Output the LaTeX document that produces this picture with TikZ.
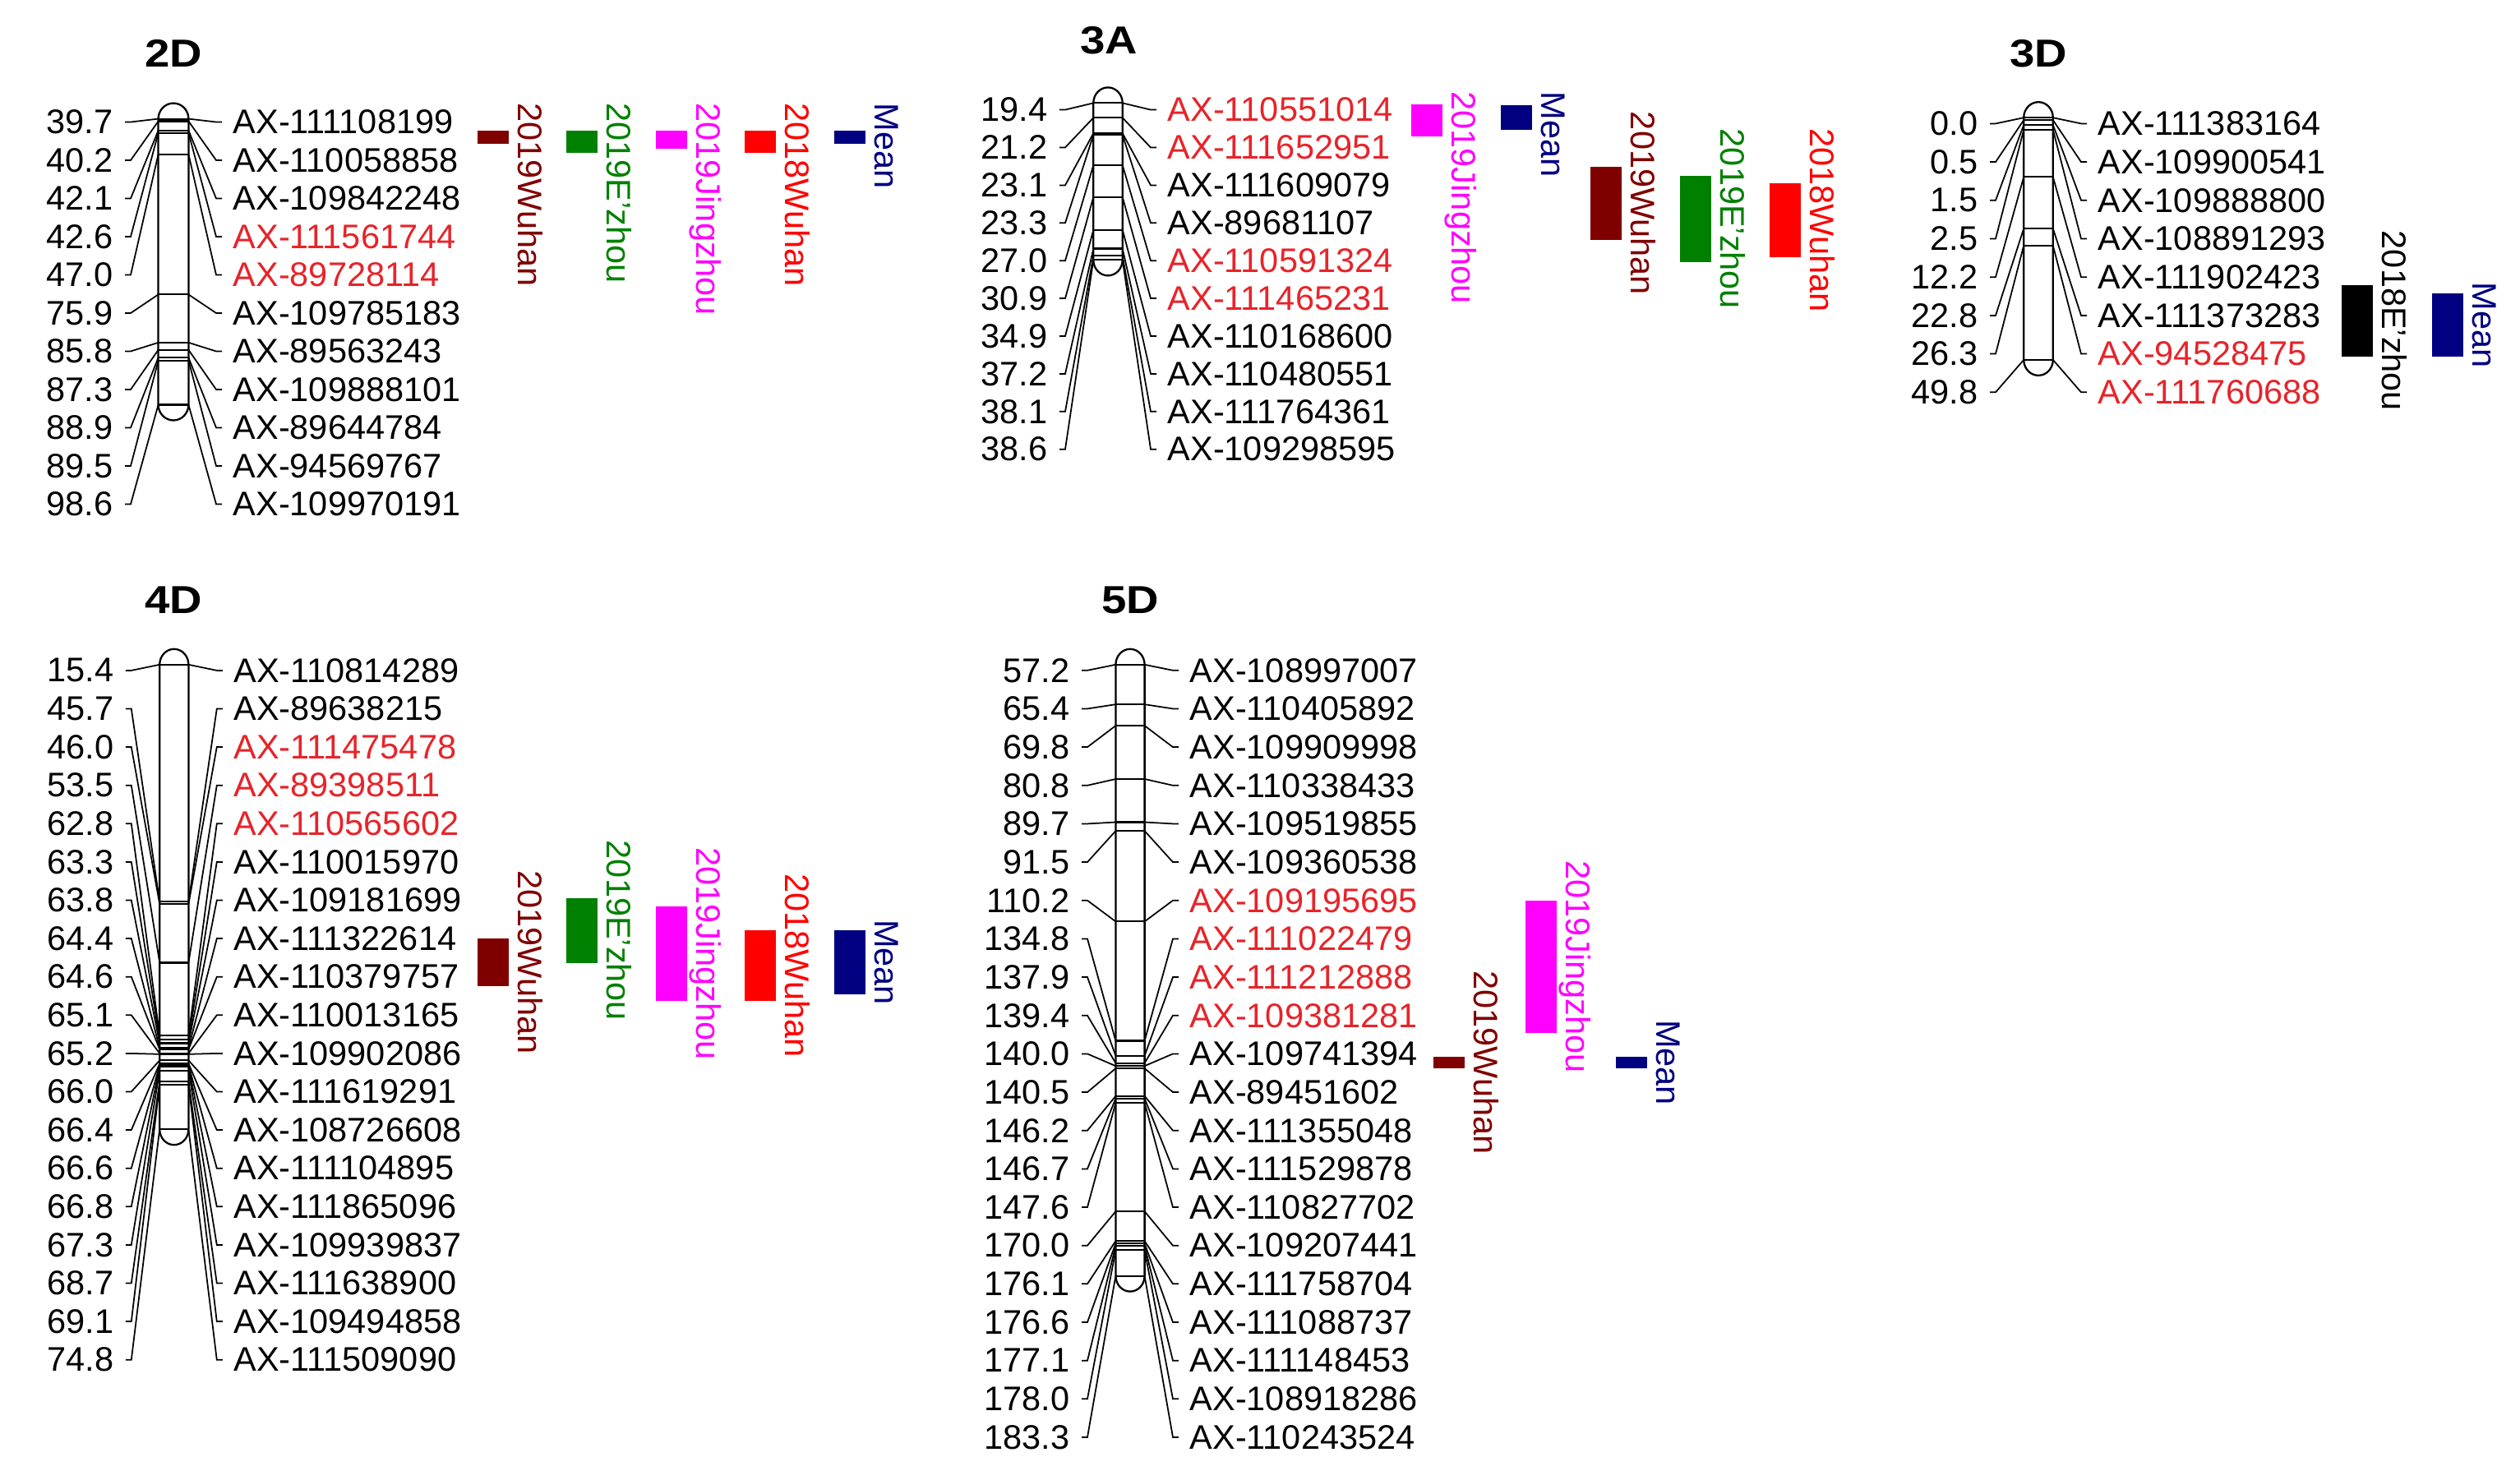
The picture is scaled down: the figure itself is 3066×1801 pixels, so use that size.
\documentclass[tikz,border=0pt]{standalone}
\usepackage{fontspec}
\setmainfont{Liberation Sans}
\definecolor{mkred}{RGB}{230,36,42}
\definecolor{cwuA}{RGB}{128,0,0}
\definecolor{cez}{RGB}{0,128,0}
\definecolor{cjz}{RGB}{255,0,255}
\definecolor{cwuB}{RGB}{255,0,0}
\definecolor{cmean}{RGB}{0,0,128}
\tikzset{
  chromline/.style={line width=0.65pt, draw=black},
  markline/.style={line width=0.6pt},
  conn/.style={line width=0.5pt},
  lab/.style={inner sep=0pt, font=\fontsize{11.8}{12}\selectfont},
  ttl/.style={inner sep=0pt, font=\fontsize{13.5}{14}\selectfont\bfseries, xscale=1.15},
  qlab/.style={inner sep=0pt, rotate=-90, font=\fontsize{11.8}{12}\selectfont},
}
% #1 id, #2 cx, #3 half width, #4 body top, #5 body bottom, #6 cM min, #7 cM max, #8 first label y, #9 label step
\newcommand{\drawchrom}[9]{%
  \draw[chromline] (#2-#3,#4) -- (#2-#3,#5) arc[start angle=180,end angle=0,x radius=#3,y radius=19] -- (#2+#3,#4) arc[start angle=0,end angle=-180,x radius=#3,y radius=19] -- cycle;
  \pgfmathsetmacro{\pxcm}{(#5-#4)/(#7-#6)}%
  \foreach \mcm/\mnm/\mcol [count=\i] in \mlist {%
    \pgfmathsetmacro{\my}{#4+\pxcm*(\mcm-#6)}%
    \pgfmathsetmacro{\ly}{#8+(\i-1)*#9}%
    \draw[markline] (#2-#3,\my) -- (#2+#3,\my);
    \node[lab, anchor=east] (#1-L-\i) at (#2-73,\ly) {\mcm};
    \node[lab, anchor=west, text=\mcol] (#1-R-\i) at (#2+72,\ly) {\mnm};
    \coordinate (#1-la-\i) at (#2-59,\ly);
    \coordinate (#1-lb-\i) at (#2-52,\ly);
    \coordinate (#1-lc-\i) at (#2-#3,\my);
    \coordinate (#1-rc-\i) at (#2+#3,\my);
    \coordinate (#1-rb-\i) at (#2+52,\ly);
    \coordinate (#1-ra-\i) at (#2+59,\ly);
    \draw[conn] (#1-la-\i) -- (#1-lb-\i) -- (#1-lc-\i);
    \draw[conn] (#1-rc-\i) -- (#1-rb-\i) -- (#1-ra-\i);
  }%
}
% bar with centred label: #1 name, #2 colour, #3 x left, #4 y top, #5 y bottom, #6 text
\newcommand{\qbar}[6]{%
  \fill[#2] (#3,#4) rectangle (#3+38,#5);
  \node[qlab, text=#2, anchor=base] (#1) at (#3+49,{(#4+#5)/2}) {#6};
}
% bar with top-aligned label: #7 text top
\newcommand{\qbarT}[7]{%
  \fill[#2] (#3,#4) rectangle (#3+38,#5);
  \node[qlab, text=#2, anchor=base west] (#1) at (#3+49,#7) {#6};
}
\begin{document}
\begin{tikzpicture}[x=0.01cm,y=-0.01cm]
\useasboundingbox (0,0) rectangle (3066,1801);
\fill[white] (0,0) rectangle (3066,1801);

% titles
\node[ttl] (t2D) at (211,65) {2D};
\node[ttl] (t3A) at (1349,49) {3A};
\node[ttl] (t3D) at (2480,65) {3D};
\node[ttl] (t4D) at (211,730) {4D};
\node[ttl] (t5D) at (1375,730) {5D};

% 2D
\def\mlist{39.7/AX-111108199/black,40.2/AX-110058858/black,42.1/AX-109842248/black,42.6/AX-111561744/mkred,47.0/AX-89728114/mkred,75.9/AX-109785183/black,85.8/AX-89563243/black,87.3/AX-109888101/black,88.9/AX-89644784/black,89.5/AX-94569767/black,98.6/AX-109970191/black}
\drawchrom{c2D}{211}{18.4}{144.6}{492.5}{39.7}{98.6}{148.5}{46.5}

% 3A
\def\mlist{19.4/AX-110551014/mkred,21.2/AX-111652951/mkred,23.1/AX-111609079/black,23.3/AX-89681107/black,27.0/AX-110591324/mkred,30.9/AX-111465231/mkred,34.9/AX-110168600/black,37.2/AX-110480551/black,38.1/AX-111764361/black,38.6/AX-109298595/black}
\drawchrom{c3A}{1348}{17.7}{125.4}{316.4}{19.4}{38.6}{133.6}{45.9}

% 3D
\def\mlist{0.0/AX-111383164/black,0.5/AX-109900541/black,1.5/AX-109888800/black,2.5/AX-108891293/black,12.2/AX-111902423/black,22.8/AX-111373283/black,26.3/AX-94528475/mkred,49.8/AX-111760688/mkred}
\drawchrom{c3D}{2480}{17.8}{143.2}{437.9}{0}{49.8}{150.4}{46.7}

% 4D
\def\mlist{15.4/AX-110814289/black,45.7/AX-89638215/black,46.0/AX-111475478/mkred,53.5/AX-89398511/mkred,62.8/AX-110565602/mkred,63.3/AX-110015970/black,63.8/AX-109181699/black,64.4/AX-111322614/black,64.6/AX-110379757/black,65.1/AX-110013165/black,65.2/AX-109902086/black,66.0/AX-111619291/black,66.4/AX-108726608/black,66.6/AX-111104895/black,66.8/AX-111865096/black,67.3/AX-109939837/black,68.7/AX-111638900/black,69.1/AX-109494858/black,74.8/AX-111509090/black}
\drawchrom{c4D}{211.8}{17.6}{808.8}{1374.2}{15.4}{74.8}{815.9}{46.6}

% 5D
\def\mlist{57.2/AX-108997007/black,65.4/AX-110405892/black,69.8/AX-109909998/black,80.8/AX-110338433/black,89.7/AX-109519855/black,91.5/AX-109360538/black,110.2/AX-109195695/mkred,134.8/AX-111022479/mkred,137.9/AX-111212888/mkred,139.4/AX-109381281/mkred,140.0/AX-109741394/black,140.5/AX-89451602/black,146.2/AX-111355048/black,146.7/AX-111529878/black,147.6/AX-110827702/black,170.0/AX-109207441/black,176.1/AX-111758704/black,176.6/AX-111088737/black,177.1/AX-111148453/black,178.0/AX-108918286/black,183.3/AX-110243524/black}
\drawchrom{c5D}{1375}{17.6}{808.8}{1552.6}{57.2}{183.3}{815.8}{46.66}

% QTL bars 2D
\qbarT{q2Da}{cwuA}{581}{159}{175}{2019Wuhan}{125}
\qbarT{q2Db}{cez}{689}{159}{186}{2019E'zhou}{125}
\qbarT{q2Dc}{cjz}{798}{159}{181}{2019Jingzhou}{125}
\qbarT{q2Dd}{cwuB}{906}{159}{186}{2018Wuhan}{125}
\qbarT{q2De}{cmean}{1015}{159}{175}{Mean}{125}

% QTL bars 3A
\qbarT{q3Aa}{cjz}{1717}{127}{166}{2019Jingzhou}{111}
\qbarT{q3Ab}{cmean}{1826}{128}{158}{Mean}{111}
\qbar{q3Ac}{cwuA}{1935}{203}{292}{2019Wuhan}
\qbar{q3Ad}{cez}{2044}{214}{319}{2019E'zhou}
\qbar{q3Ae}{cwuB}{2153}{223}{313}{2018Wuhan}

% QTL bars 3D
\qbar{q3Da}{black}{2849}{347}{434}{2018E'zhou}
\qbar{q3Db}{cmean}{2959}{357}{434}{Mean}

% QTL bars 4D
\qbar{q4Da}{cwuA}{581}{1142}{1200}{2019Wuhan}
\qbar{q4Db}{cez}{689}{1093}{1172}{2019E'zhou}
\qbar{q4Dc}{cjz}{798}{1103}{1218}{2019Jingzhou}
\qbar{q4Dd}{cwuB}{906}{1132}{1218}{2018Wuhan}
\qbar{q4De}{cmean}{1015}{1132}{1210}{Mean}

% QTL bars 5D
\qbar{q5Da}{cwuA}{1744}{1286}{1300}{2019Wuhan}
\qbar{q5Db}{cjz}{1856}{1096}{1257}{2019Jingzhou}
\qbar{q5Dc}{cmean}{1966}{1286}{1300}{Mean}
\end{tikzpicture}
\end{document}
